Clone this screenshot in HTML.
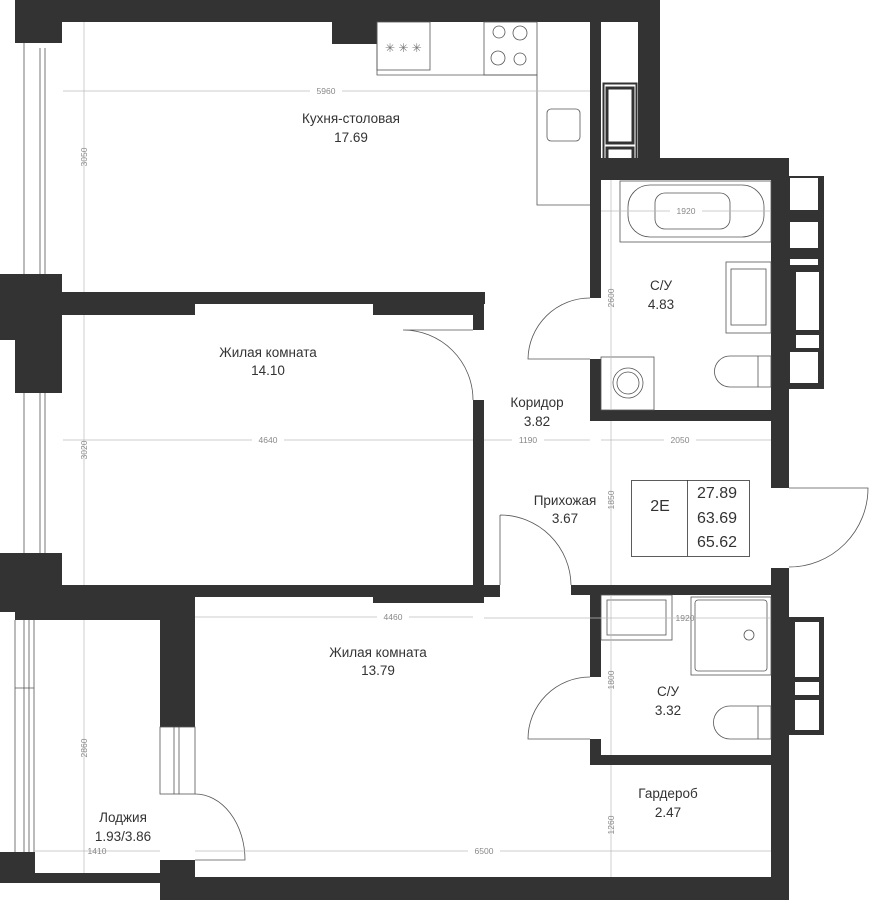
<!DOCTYPE html>
<html><head><meta charset="utf-8"><style>
html,body{margin:0;padding:0;background:#fff;}
svg{display:block;}
text{font-family:"Liberation Sans",sans-serif;fill:#333;}
.l{font-size:13.5px;text-anchor:middle;}
.d{font-size:8.5px;fill:#888;text-anchor:middle;}
</style></head><body>
<svg width="869" height="900" viewBox="0 0 869 900" xmlns="http://www.w3.org/2000/svg">
<g fill="#333">
<!-- top wall -->
<rect x="15" y="0" width="645" height="22"/>
<rect x="15" y="0" width="47" height="43"/>
<rect x="332" y="22" width="45" height="22"/>
<rect x="638" y="0" width="22" height="180"/>
<rect x="590" y="0" width="11" height="298"/>
<rect x="590" y="359" width="11" height="62"/>
<rect x="590" y="158" width="199" height="22"/>
<rect x="771" y="158" width="18" height="330"/>
<rect x="590" y="410" width="199" height="11"/>
<rect x="771" y="568" width="18" height="332"/>
<!-- left walls -->
<rect x="0" y="274" width="62" height="66"/>
<rect x="15" y="339" width="47" height="54"/>
<rect x="0" y="292" width="195" height="23"/>
<rect x="195" y="292" width="290" height="12"/>
<rect x="373" y="292" width="111" height="23"/>
<rect x="473" y="292" width="11" height="38"/>
<rect x="473" y="400" width="11" height="203"/>
<!-- room1 bottom -->
<rect x="0" y="553" width="62" height="59"/>
<rect x="0" y="585" width="195" height="27"/>
<rect x="15" y="585" width="145" height="35"/>
<rect x="160" y="585" width="35" height="142"/>
<rect x="195" y="585" width="289" height="12"/>
<rect x="373" y="585" width="111" height="18"/>
<rect x="473" y="585" width="27" height="12"/>
<!-- bathroom2 -->
<rect x="571" y="585" width="218" height="10"/>
<rect x="590" y="585" width="11" height="92"/>
<rect x="590" y="739" width="11" height="26"/>
<rect x="590" y="755" width="199" height="10"/>
<!-- loggia bottom -->
<rect x="0" y="852" width="35" height="21"/>
<rect x="0" y="873" width="160" height="10"/>
<rect x="160" y="860" width="35" height="40"/>
<rect x="160" y="877" width="629" height="23"/>
<!-- right windows -->
<rect x="789" y="176" width="35" height="213"/>
<rect x="789" y="617" width="35" height="118"/>
</g>
<g fill="#fff">
<rect x="790" y="178" width="28" height="32"/>
<rect x="790" y="222" width="28" height="26"/>
<rect x="790" y="259" width="28" height="6"/>
<rect x="796" y="272" width="23" height="58"/>
<rect x="796" y="335" width="23" height="13"/>
<rect x="790" y="352" width="28" height="31"/>
<rect x="795" y="622" width="24" height="55"/>
<rect x="795" y="682" width="24" height="13"/>
<rect x="795" y="700" width="24" height="30"/>
<rect x="601" y="22" width="37" height="136"/>
</g>
<g fill="none" stroke="#333" stroke-width="1">
<!-- shaft -->
<rect x="603.5" y="83.5" width="33" height="84" stroke-width="2"/>
<rect x="607" y="88" width="26" height="55" stroke-width="3"/>
<rect x="607" y="148" width="26" height="14" stroke-width="3"/>
</g>
<g fill="none" stroke="#555" stroke-width="0.8">
<!-- windows left -->
<line x1="24" y1="43" x2="24" y2="274"/><line x1="40" y1="48" x2="40" y2="274"/><line x1="45" y1="48" x2="45" y2="274"/>
<line x1="24" y1="393" x2="24" y2="553"/><line x1="40" y1="393" x2="40" y2="553"/><line x1="45" y1="393" x2="45" y2="553"/>
<line x1="15" y1="620" x2="15" y2="852"/><line x1="24" y1="620" x2="24" y2="852"/><line x1="29" y1="620" x2="29" y2="852"/><line x1="34" y1="620" x2="34" y2="852"/>
<line x1="15" y1="688" x2="34" y2="688"/>
<!-- loggia window to room -->
<rect x="160" y="727" width="35" height="67"/><line x1="174" y1="727" x2="174" y2="794"/><line x1="179" y1="727" x2="179" y2="794"/>
<!-- doors -->
<path d="M195 794 A50 66 0 0 1 245 860 L195 860"/>
<path d="M473 400 A70 70 0 0 0 403 330 L473 330"/>
<path d="M590 298 A62 62 0 0 0 528 359 L590 359"/>
<path d="M500 515 L500 585 M500 515 A71 71 0 0 1 571 585"/>
<path d="M590 677 A62 62 0 0 0 528 739 L590 739"/>
<path d="M789 488 L868 488 A79 79 0 0 1 789 567"/>
<!-- kitchen -->
<path d="M377 22 V75 H537 V205 H590"/>
<rect x="377" y="22" width="53" height="48"/>
<rect x="484" y="22" width="53" height="53"/>
<circle cx="499" cy="32" r="6"/><circle cx="520" cy="33" r="7"/>
<circle cx="498" cy="58" r="7"/><circle cx="520" cy="59" r="6"/>
<rect x="547" y="109" width="33" height="32" rx="4"/>
<!-- bath1 -->
<rect x="620" y="181" width="151" height="61"/>
<rect x="628" y="185" width="136" height="52" rx="22"/>
<rect x="655" y="193" width="75" height="36" rx="10"/>
<rect x="726" y="262" width="45" height="71"/>
<rect x="731" y="269" width="35" height="56"/>
<rect x="601" y="357" width="53" height="53"/>
<circle cx="628" cy="383" r="15"/><circle cx="628" cy="383" r="11"/>
<path d="M730 356 H771 V387 H730 A15 15 0 0 1 730 356 Z"/><line x1="758" y1="356" x2="758" y2="387"/>
<!-- bath2 -->
<rect x="601" y="595" width="71" height="45"/><rect x="607" y="600" width="59" height="35"/>
<rect x="691" y="597" width="80" height="78"/><rect x="695" y="600" width="72" height="71" rx="3"/>
<circle cx="749" cy="635" r="5"/>
<path d="M730 706 H771 V739 H730 A16 16 0 0 1 730 706 Z"/><line x1="758" y1="706" x2="758" y2="739"/>
<!-- info box -->
<rect x="631.5" y="480.5" width="118" height="76" stroke="#333"/>
<line x1="687.5" y1="480" x2="687.5" y2="556" stroke="#333"/>
</g>
<g stroke="#bbb" stroke-width="0.7">
<line x1="63" y1="91" x2="590" y2="91"/><line x1="84" y1="22" x2="84" y2="292"/>
<line x1="63" y1="440" x2="473" y2="440"/><line x1="84" y1="315" x2="84" y2="585"/>
<line x1="484" y1="440" x2="590" y2="440"/><line x1="601" y1="440" x2="771" y2="440"/>
<line x1="611" y1="180" x2="611" y2="410"/><line x1="601" y1="211" x2="771" y2="211"/>
<line x1="611" y1="421" x2="611" y2="585"/>
<line x1="484" y1="618" x2="771" y2="618"/><line x1="195" y1="617" x2="473" y2="617"/>
<line x1="611" y1="595" x2="611" y2="755"/><line x1="611" y1="765" x2="611" y2="877"/>
<line x1="195" y1="851" x2="771" y2="851"/><line x1="35" y1="851" x2="160" y2="851"/>
<line x1="84" y1="620" x2="84" y2="873"/>
</g>
<g fill="#fff">
<rect x="310" y="86" width="32" height="10"/><rect x="252" y="435" width="32" height="10"/>
<rect x="512" y="435" width="32" height="10"/><rect x="664" y="435" width="32" height="10"/>
<rect x="670" y="206" width="32" height="10"/><rect x="377" y="612" width="32" height="10"/>
<rect x="468" y="846" width="32" height="10"/>
</g>
<g>
<text class="d" x="326" y="94">5960</text>
<text class="d" x="268" y="443">4640</text>
<text class="d" x="528" y="443">1190</text>
<text class="d" x="680" y="443">2050</text>
<text class="d" x="686" y="214">1920</text>
<text class="d" x="685" y="621">1920</text>
<text class="d" x="393" y="620">4460</text>
<text class="d" x="484" y="854">6500</text>
<text class="d" x="97" y="854">1410</text>
<text class="d" transform="translate(87,157) rotate(-90)">3050</text>
<text class="d" transform="translate(87,450) rotate(-90)">3020</text>
<text class="d" transform="translate(87,748) rotate(-90)">2860</text>
<text class="d" transform="translate(614,298) rotate(-90)">2600</text>
<text class="d" transform="translate(614,500) rotate(-90)">1850</text>
<text class="d" transform="translate(614,680) rotate(-90)">1800</text>
<text class="d" transform="translate(614,825) rotate(-90)">1260</text>
</g>
<g>
<text class="l" x="351" y="123">Кухня-столовая</text><text class="l" x="351" y="142">17.69</text>
<text class="l" x="268" y="357">Жилая комната</text><text class="l" x="268" y="375">14.10</text>
<text class="l" x="661" y="290">С/У</text><text class="l" x="661" y="309">4.83</text>
<text class="l" x="537" y="407">Коридор</text><text class="l" x="537" y="426">3.82</text>
<text class="l" x="565" y="505">Прихожая</text><text class="l" x="565" y="523">3.67</text>
<text class="l" x="378" y="657">Жилая комната</text><text class="l" x="378" y="675">13.79</text>
<text class="l" x="668" y="696">С/У</text><text class="l" x="668" y="715">3.32</text>
<text class="l" x="668" y="798">Гардероб</text><text class="l" x="668" y="817">2.47</text>
<text class="l" x="123" y="822">Лоджия</text><text class="l" x="123" y="841">1.93/3.86</text>
<text class="l" x="660" y="511" style="font-size:16px">2E</text>
<text class="l" x="717" y="498" style="font-size:16px">27.89</text>
<text class="l" x="717" y="523" style="font-size:16px">63.69</text>
<text class="l" x="717" y="547" style="font-size:16px">65.62</text>
<text x="385" y="52" style="font-size:12px;fill:#777">✳ ✳ ✳</text>
</g>
</svg>
</body></html>
